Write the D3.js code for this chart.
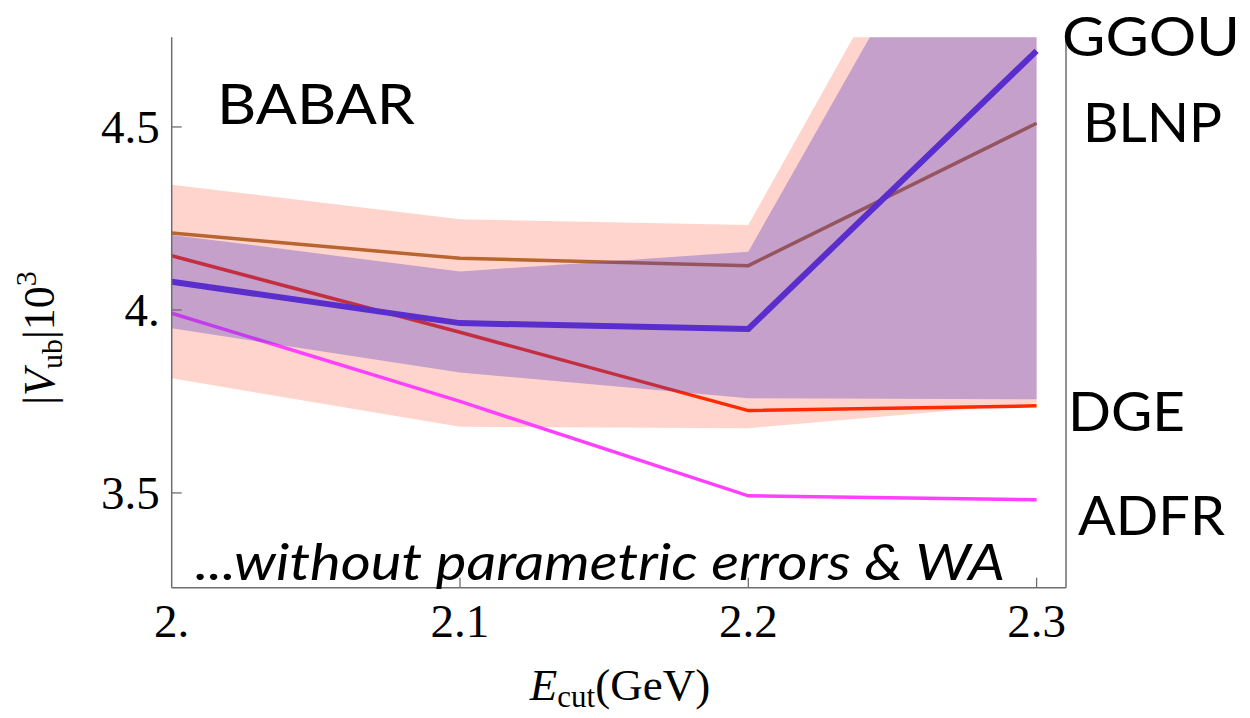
<!DOCTYPE html>
<html><head><meta charset="utf-8">
<script src="https://cdn.jsdelivr.net/npm/d3@7"></script>
<style>body{margin:0;background:#fff}svg{display:block}</style>
</head><body>
<svg id="c" width="1250" height="718"></svg>
<script>
const ecut = [2.0, 2.1, 2.2, 2.3];
const blnp = [4.21, 4.141, 4.121, 4.51];
const ggou = [4.077, 3.964, 3.948, 4.708];
const dge  = [4.148, 3.939, 3.725, 3.738];
const adfr = [3.991, 3.75, 3.492, 3.481];
const pinkHi = [4.342, 4.248, 4.232, 5.64];
const pinkLo = [3.813, 3.681, 3.677, 3.745];
const purpHi = [4.205, 4.105, 4.159, 5.55];
const purpLo = [3.95, 3.829, 3.759, 3.756];
const xTicks = [2.0, 2.1, 2.2, 2.3];
const xTickLabels = ["2.", "2.1", "2.2", "2.3"];
const yTicks = [3.5, 4.0, 4.5];
const yTickLabels = ["3.5", "4.", "4.5"];
const seriesNames = ["GGOU", "BLNP", "DGE", "ADFR"];

const svg = d3.select("#c");
const L = 171.7, R = 1066, T = 37.3, B = 587.7;
const x = d3.scaleLinear().domain([2.0, 2.3102]).range([L, R]);
const y = d3.scaleLinear().domain([3.241, 4.745]).range([B, T]);

svg.append("defs").append("clipPath").attr("id","clip")
  .append("rect").attr("x",L).attr("y",T).attr("width",R-L).attr("height",B-T);
const g = svg.append("g").attr("clip-path","url(#clip)");

const area = (hi, lo) => d3.area().x((d,i)=>x(ecut[i])).y0((d,i)=>y(lo[i])).y1((d,i)=>y(hi[i]))(ecut);
const line = vals => d3.line().x((d,i)=>x(ecut[i])).y((d,i)=>y(vals[i]))(ecut);

g.append("path").attr("d", area(pinkHi, pinkLo)).attr("fill","rgb(255,42,0)").attr("fill-opacity",0.2);
g.append("path").attr("d", line(blnp)).attr("fill","none").attr("stroke","#b8652f").attr("stroke-width",3.5);
g.append("path").attr("d", line(dge)).attr("fill","none").attr("stroke","#ff2a00").attr("stroke-width",3.5);
g.append("path").attr("d", line(adfr)).attr("fill","none").attr("stroke","#ff40ff").attr("stroke-width",3.5);
g.append("path").attr("d", area(purpHi, purpLo)).attr("fill","rgb(76,55,197)").attr("fill-opacity",0.33);
g.append("path").attr("d", line(ggou)).attr("fill","none").attr("stroke","#5a2ecc").attr("stroke-width",6);

// frame
const ax = "#6e6e6e";
svg.append("line").attr("x1",L).attr("x2",L).attr("y1",T).attr("y2",B).attr("stroke",ax).attr("stroke-width",1.5);
svg.append("line").attr("x1",R).attr("x2",R).attr("y1",T).attr("y2",B).attr("stroke",ax).attr("stroke-width",1.5);
svg.append("line").attr("x1",L).attr("x2",R).attr("y1",B).attr("y2",B).attr("stroke",ax).attr("stroke-width",1.5);

const serif = "'Liberation Serif','DejaVu Serif',serif";
const sans = "Lato,'Open Sans',sans-serif";

yTicks.forEach((v,i)=>{
  svg.append("line").attr("x1",L).attr("x2",L+10).attr("y1",y(v)).attr("y2",y(v)).attr("stroke",ax).attr("stroke-width",1.3);
  svg.append("text").attr("x",L-12).attr("y",y(v)+16).attr("text-anchor","end")
    .attr("font-family",serif).attr("font-size",47).text(yTickLabels[i]);
});
xTicks.forEach((v,i)=>{
  if (i>0) svg.append("line").attr("x1",x(v)).attr("x2",x(v)).attr("y1",B).attr("y2",B-10).attr("stroke",ax).attr("stroke-width",1.3);
  svg.append("text").attr("x",x(v)).attr("y",637).attr("text-anchor","middle")
    .attr("font-family",serif).attr("font-size",47).text(xTickLabels[i]);
});

// axis titles
const xt = svg.append("text").attr("x",620).attr("y",700).attr("text-anchor","middle")
  .attr("font-family",serif).attr("font-size",45);
xt.append("tspan").attr("font-style","italic").text("E");
xt.append("tspan").attr("font-size",31).attr("dy",7).text("cut");
xt.append("tspan").attr("dy",-7).text("(GeV)");

const yt = svg.append("text").attr("transform","translate(54,338) rotate(-90)").attr("text-anchor","middle")
  .attr("font-family",serif).attr("font-size",44);
yt.append("tspan").text("|");
yt.append("tspan").attr("font-style","italic").text("V");
yt.append("tspan").attr("font-size",30).attr("dy",8).text("ub");
yt.append("tspan").attr("dy",-8).text("|10");
yt.append("tspan").attr("font-size",30).attr("dy",-18).text("3");

// annotations
svg.append("text").attr("x",217).attr("y",124).attr("font-family",sans).attr("font-size",57)
  .attr("textLength",198).attr("lengthAdjust","spacingAndGlyphs").text("BABAR");
svg.append("text").attr("x",195).attr("y",580).attr("font-family",sans).attr("font-style","italic").attr("font-size",50)
  .attr("textLength",810).attr("lengthAdjust","spacingAndGlyphs")
  .text("...without parametric errors & WA");

const labelPos = [[1062,56],[1083,142],[1068,431],[1078,535]];
const labelWidth = [178,139,117,147];
seriesNames.forEach((n,i)=>{
  svg.append("text").attr("x",labelPos[i][0]).attr("y",labelPos[i][1]).attr("font-family",sans).attr("font-size",54)
    .attr("textLength",labelWidth[i]).attr("lengthAdjust","spacingAndGlyphs").text(n);
});
</script>
</body></html>
